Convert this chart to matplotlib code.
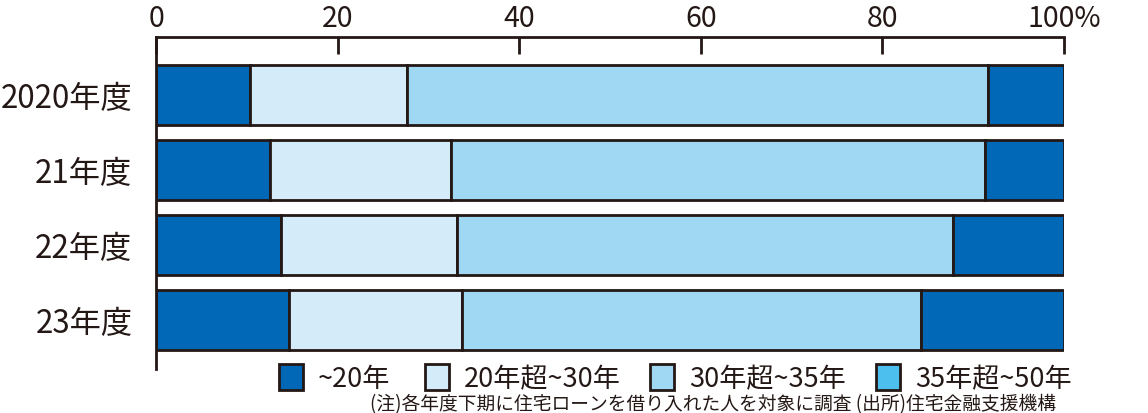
import matplotlib
matplotlib.use("Agg")
import matplotlib.pyplot as plt
from matplotlib.patches import Patch

plt.rcParams['font.family'] = ['Noto Sans CJK JP', 'DejaVu Sans']

years = ['2020年度', '21年度', '22年度', '23年度']
series_names = ['~20年', '20年超~30年', '30年超~35年', '35年超~50年']
s_upto20 = [10.3, 12.5, 13.8, 14.7]
s_20_30 = [17.3, 20.0, 19.3, 19.0]
s_30_35 = [64.0, 58.8, 54.7, 50.6]
s_35_50 = [8.4, 8.7, 12.2, 15.7]
values = [s_upto20, s_20_30, s_30_35, s_35_50]

bar_colors = ['#0068b7', '#d4ebf9', '#a0d8f4', '#0068b7']
legend_colors = ['#0068b7', '#d4ebf9', '#a0d8f4', '#4cbfee']
xticks = [0, 20, 40, 60, 80, 100]
xticklabels = ['0', '20', '40', '60', '80', '100%']
note = '(注)各年度下期に住宅ローンを借り入れた人を対象に調査 (出所)住宅金融支援機構'

ink = '#231815'
W, H = 1148, 414
fig = plt.figure(figsize=(W / 100, H / 100), dpi=100)
ax = fig.add_axes([156 / W, 1 - 370 / H, (1064 - 156) / W, (370 - 38) / H])

ypos = list(range(len(years)))
left = [0.0] * len(years)
for vals, col in zip(values, bar_colors):
    ax.barh(ypos, vals, left=left, height=0.8, color=col,
            edgecolor=ink, linewidth=2.0)
    left = [l + v for l, v in zip(left, vals)]

ax.set_xlim(0, 100)
ax.set_ylim(3 + 49 / 75, -58 / 75)

ax.xaxis.tick_top()
ax.set_xticks(xticks)
ax.set_xticklabels(xticklabels)
ax.tick_params(axis='x', direction='in', length=12, width=2.0, color=ink,
               labelsize=20.5, labelcolor=ink, pad=3)
ax.set_yticks(ypos)
ax.set_yticklabels(years)
ax.tick_params(axis='y', length=0, labelsize=22.5, labelcolor=ink, pad=17)

for s in ['right', 'bottom']:
    ax.spines[s].set_visible(False)
for s in ['top', 'left']:
    ax.spines[s].set_color(ink)
    ax.spines[s].set_linewidth(2.0)

patch_left = [279, 425, 650, 876]
for name, col, xl in zip(series_names, legend_colors, patch_left):
    h = Patch(facecolor=col, edgecolor=ink, linewidth=2.0)
    fig.legend([h], [name], loc='center left',
               bbox_to_anchor=(xl / W, 1 - 379 / H), frameon=False,
               borderpad=0, borderaxespad=0, handlelength=0.9,
               handleheight=1.1, handletextpad=0.55,
               prop={'size': 19.5}, labelcolor=ink)

fig.text(713 / W, 1 - 405 / H, note, ha='center', va='center',
         fontsize=13.5, color=ink)

fig.savefig('out.png', dpi=100)
